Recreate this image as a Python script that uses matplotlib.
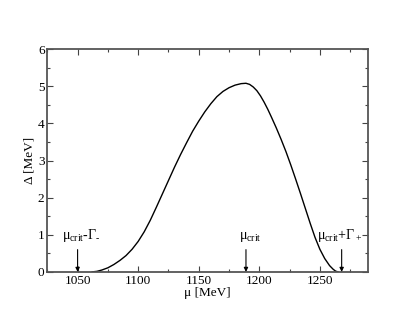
import matplotlib
matplotlib.use("Agg")
import matplotlib.pyplot as plt
from matplotlib.ticker import MultipleLocator

plt.rcParams['font.family'] = ['Liberation Serif', 'DejaVu Serif']
plt.rcParams['mathtext.fontset'] = 'custom'
plt.rcParams['mathtext.rm'] = 'Liberation Serif'
plt.rcParams['mathtext.it'] = 'Liberation Serif:italic'

# gap curve
mu = [1062, 1066, 1070, 1075, 1080, 1085, 1090, 1095, 1100, 1105, 1110,
      1115, 1120, 1125, 1130, 1135, 1140, 1145, 1150, 1155, 1160, 1165,
      1170, 1175, 1180, 1185, 1189, 1192, 1195, 1198, 1201, 1204, 1207,
      1210, 1214, 1218, 1222, 1226, 1230, 1234, 1238, 1242, 1246, 1250,
      1254, 1258, 1261, 1263, 1265]
delta = [0.0, 0.015, 0.05, 0.11, 0.20, 0.31, 0.44, 0.61, 0.82, 1.08, 1.39,
         1.74, 2.10, 2.46, 2.82, 3.16, 3.48, 3.79, 4.06, 4.31, 4.53, 4.72,
         4.86, 4.96, 5.03, 5.07, 5.08, 5.05, 4.98, 4.88, 4.74, 4.57, 4.38,
         4.17, 3.88, 3.57, 3.24, 2.88, 2.50, 2.11, 1.71, 1.31, 0.93, 0.61,
         0.36, 0.17, 0.07, 0.02, 0.0]

marks = [1050, 1189, 1268]
mark_labels = [r'μ$_\mathrm{crit}$-Γ$_\text{-}$', r'μ$_\mathrm{crit}$',
               r'μ$_\mathrm{crit}$+Γ$_+$']
label_x = [1053, 1192.5, 1266.5]

fig = plt.figure(figsize=(4.15, 3.21), dpi=100)
ax = fig.add_axes([0.114, 0.153, 0.7735, 0.694])

ax.plot(mu, delta, color='black', lw=1.0)

for m, lab, lx in zip(marks, mark_labels, label_x):
    ax.annotate('', xy=(m, 0), xytext=(m, 0.6),
                arrowprops=dict(arrowstyle='-|>', color='black', lw=0.8,
                                mutation_scale=6, shrinkA=0, shrinkB=0))
    ax.text(lx, 0.89, lab, ha='center', va='baseline', fontsize=10)

ax.set_xlim(1025, 1290)
ax.set_ylim(0, 6)
ax.xaxis.set_major_locator(MultipleLocator(50))
ax.xaxis.set_minor_locator(MultipleLocator(25))
ax.yaxis.set_major_locator(MultipleLocator(1))
ax.yaxis.set_minor_locator(MultipleLocator(0.5))
ax.tick_params(which='both', direction='in', top=True, right=True,
               labelsize=9.5, color='#444444', pad=2)
ax.tick_params(which='major', length=4, width=0.8)
ax.tick_params(which='minor', length=2.5, width=0.8)
for s in ax.spines.values():
    s.set_linewidth(1.3)
    s.set_color('#555555')

ax.set_xlabel('μ [MeV]', fontsize=9.5, labelpad=0)
ax.set_ylabel('Δ [MeV]', fontsize=9.5, labelpad=2)

fig.savefig('out.png', dpi=100)
